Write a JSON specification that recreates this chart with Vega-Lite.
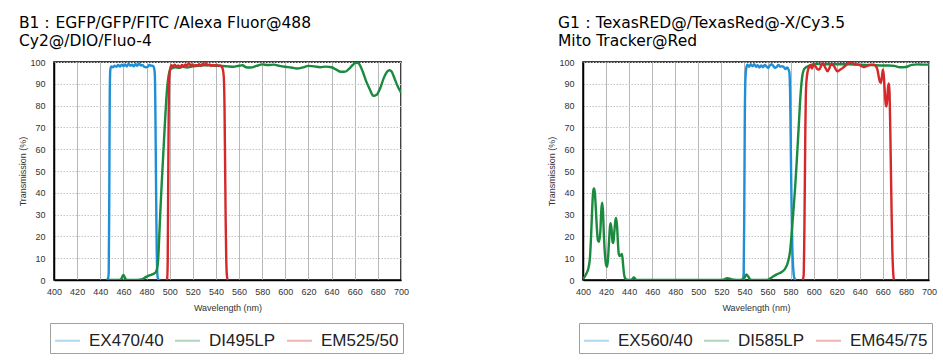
{
  "$schema": "https://vega.github.io/schema/vega-lite/v6.json",
  "background": "white",
  "padding": {"left": 18, "top": 14, "right": 5, "bottom": 5},
  "datasets": {
    "b1": [
      {"s": "EX470/40", "nm": 445, "t": 0}, {"s": "EX470/40", "nm": 446.5, "t": 0.2}, {"s": "EX470/40", "nm": 447.3, "t": 3}, {"s": "EX470/40", "nm": 447.8, "t": 40}, {"s": "EX470/40", "nm": 448.2, "t": 85}, {"s": "EX470/40", "nm": 448.7, "t": 96.5}, {"s": "EX470/40", "nm": 449.5, "t": 98}, {"s": "EX470/40", "nm": 451, "t": 97.6}, {"s": "EX470/40", "nm": 452.5, "t": 98.3}, {"s": "EX470/40", "nm": 454, "t": 97.8}, {"s": "EX470/40", "nm": 455.5, "t": 98.6}, {"s": "EX470/40", "nm": 457, "t": 97.9}, {"s": "EX470/40", "nm": 458.5, "t": 98.8}, {"s": "EX470/40", "nm": 460, "t": 98.1}, {"s": "EX470/40", "nm": 461.5, "t": 98.9}, {"s": "EX470/40", "nm": 463, "t": 97.9}, {"s": "EX470/40", "nm": 464.5, "t": 99.2}, {"s": "EX470/40", "nm": 466, "t": 98.3}, {"s": "EX470/40", "nm": 467.5, "t": 98.8}, {"s": "EX470/40", "nm": 469, "t": 98.0}, {"s": "EX470/40", "nm": 470.5, "t": 99.1}, {"s": "EX470/40", "nm": 472, "t": 98.2}, {"s": "EX470/40", "nm": 473.5, "t": 99.4}, {"s": "EX470/40", "nm": 475, "t": 98.4}, {"s": "EX470/40", "nm": 476.5, "t": 98.7}, {"s": "EX470/40", "nm": 478, "t": 97.8}, {"s": "EX470/40", "nm": 479.5, "t": 97.6}, {"s": "EX470/40", "nm": 481, "t": 97.8}, {"s": "EX470/40", "nm": 482.5, "t": 98.6}, {"s": "EX470/40", "nm": 484, "t": 98.3}, {"s": "EX470/40", "nm": 485.5, "t": 98.2}, {"s": "EX470/40", "nm": 486.5, "t": 97.3}, {"s": "EX470/40", "nm": 487.2, "t": 94}, {"s": "EX470/40", "nm": 487.7, "t": 75}, {"s": "EX470/40", "nm": 488.2, "t": 45}, {"s": "EX470/40", "nm": 488.7, "t": 18}, {"s": "EX470/40", "nm": 489.2, "t": 5}, {"s": "EX470/40", "nm": 489.7, "t": 1}, {"s": "EX470/40", "nm": 490.5, "t": 0}, {"s": "EX470/40", "nm": 492, "t": 0},
      {"s": "DI495LP", "nm": 445, "t": 0}, {"s": "DI495LP", "nm": 450, "t": 0}, {"s": "DI495LP", "nm": 455, "t": 0}, {"s": "DI495LP", "nm": 458, "t": 0.3}, {"s": "DI495LP", "nm": 459, "t": 1.5}, {"s": "DI495LP", "nm": 460, "t": 2.3}, {"s": "DI495LP", "nm": 461, "t": 1.5}, {"s": "DI495LP", "nm": 462, "t": 0.3}, {"s": "DI495LP", "nm": 465, "t": 0}, {"s": "DI495LP", "nm": 470, "t": 0}, {"s": "DI495LP", "nm": 474, "t": 0.1}, {"s": "DI495LP", "nm": 477, "t": 0.5}, {"s": "DI495LP", "nm": 479, "t": 1.2}, {"s": "DI495LP", "nm": 481, "t": 1.8}, {"s": "DI495LP", "nm": 484, "t": 2.4}, {"s": "DI495LP", "nm": 486, "t": 2.8}, {"s": "DI495LP", "nm": 488, "t": 3.6}, {"s": "DI495LP", "nm": 489, "t": 5}, {"s": "DI495LP", "nm": 490, "t": 9}, {"s": "DI495LP", "nm": 491, "t": 20}, {"s": "DI495LP", "nm": 492, "t": 32}, {"s": "DI495LP", "nm": 493, "t": 43}, {"s": "DI495LP", "nm": 494, "t": 53}, {"s": "DI495LP", "nm": 495, "t": 63}, {"s": "DI495LP", "nm": 496, "t": 73}, {"s": "DI495LP", "nm": 497, "t": 82}, {"s": "DI495LP", "nm": 498, "t": 89}, {"s": "DI495LP", "nm": 499, "t": 93.5}, {"s": "DI495LP", "nm": 500, "t": 95.8}, {"s": "DI495LP", "nm": 501, "t": 96.8}, {"s": "DI495LP", "nm": 503, "t": 97.3}, {"s": "DI495LP", "nm": 505, "t": 97.6}, {"s": "DI495LP", "nm": 508, "t": 97.3}, {"s": "DI495LP", "nm": 511, "t": 97.8}, {"s": "DI495LP", "nm": 515, "t": 97.5}, {"s": "DI495LP", "nm": 520, "t": 98}, {"s": "DI495LP", "nm": 525, "t": 98.3}, {"s": "DI495LP", "nm": 530, "t": 98.5}, {"s": "DI495LP", "nm": 535, "t": 98.5}, {"s": "DI495LP", "nm": 540, "t": 98.3}, {"s": "DI495LP", "nm": 545, "t": 98.2}, {"s": "DI495LP", "nm": 550, "t": 98}, {"s": "DI495LP", "nm": 555, "t": 97.8}, {"s": "DI495LP", "nm": 560, "t": 98.3}, {"s": "DI495LP", "nm": 563, "t": 98.5}, {"s": "DI495LP", "nm": 566, "t": 97.6}, {"s": "DI495LP", "nm": 570, "t": 97.5}, {"s": "DI495LP", "nm": 575, "t": 98.2}, {"s": "DI495LP", "nm": 580, "t": 98.9}, {"s": "DI495LP", "nm": 585, "t": 98.6}, {"s": "DI495LP", "nm": 590, "t": 98.8}, {"s": "DI495LP", "nm": 595, "t": 98.2}, {"s": "DI495LP", "nm": 600, "t": 97.8}, {"s": "DI495LP", "nm": 605, "t": 97.5}, {"s": "DI495LP", "nm": 610, "t": 97}, {"s": "DI495LP", "nm": 615, "t": 97.5}, {"s": "DI495LP", "nm": 620, "t": 98.2}, {"s": "DI495LP", "nm": 625, "t": 98}, {"s": "DI495LP", "nm": 630, "t": 97.6}, {"s": "DI495LP", "nm": 635, "t": 97.9}, {"s": "DI495LP", "nm": 640, "t": 97.6}, {"s": "DI495LP", "nm": 644, "t": 96.5}, {"s": "DI495LP", "nm": 648, "t": 95.5}, {"s": "DI495LP", "nm": 652, "t": 95.6}, {"s": "DI495LP", "nm": 655, "t": 96.8}, {"s": "DI495LP", "nm": 658, "t": 98.5}, {"s": "DI495LP", "nm": 661, "t": 99.6}, {"s": "DI495LP", "nm": 663, "t": 99.5}, {"s": "DI495LP", "nm": 665, "t": 98}, {"s": "DI495LP", "nm": 667, "t": 95.5}, {"s": "DI495LP", "nm": 670, "t": 91}, {"s": "DI495LP", "nm": 673, "t": 87.5}, {"s": "DI495LP", "nm": 676, "t": 84.5}, {"s": "DI495LP", "nm": 679, "t": 85}, {"s": "DI495LP", "nm": 682, "t": 88}, {"s": "DI495LP", "nm": 685, "t": 92.5}, {"s": "DI495LP", "nm": 688, "t": 95.5}, {"s": "DI495LP", "nm": 690, "t": 96.2}, {"s": "DI495LP", "nm": 692, "t": 95.5}, {"s": "DI495LP", "nm": 694, "t": 93}, {"s": "DI495LP", "nm": 697, "t": 89}, {"s": "DI495LP", "nm": 700, "t": 86},
      {"s": "EM525/50", "nm": 497, "t": 0}, {"s": "EM525/50", "nm": 497.8, "t": 0.5}, {"s": "EM525/50", "nm": 498.3, "t": 8}, {"s": "EM525/50", "nm": 498.8, "t": 50}, {"s": "EM525/50", "nm": 499.3, "t": 85}, {"s": "EM525/50", "nm": 499.8, "t": 94}, {"s": "EM525/50", "nm": 500.5, "t": 97}, {"s": "EM525/50", "nm": 501.5, "t": 98.5}, {"s": "EM525/50", "nm": 503, "t": 98}, {"s": "EM525/50", "nm": 504.5, "t": 98.8}, {"s": "EM525/50", "nm": 506, "t": 97.8}, {"s": "EM525/50", "nm": 507.5, "t": 98.4}, {"s": "EM525/50", "nm": 509, "t": 97.5}, {"s": "EM525/50", "nm": 510.5, "t": 98.7}, {"s": "EM525/50", "nm": 512, "t": 98}, {"s": "EM525/50", "nm": 513.5, "t": 98.9}, {"s": "EM525/50", "nm": 515, "t": 98.2}, {"s": "EM525/50", "nm": 516.5, "t": 99.5}, {"s": "EM525/50", "nm": 518, "t": 98.4}, {"s": "EM525/50", "nm": 519.5, "t": 98.9}, {"s": "EM525/50", "nm": 521, "t": 98.1}, {"s": "EM525/50", "nm": 522.5, "t": 98.7}, {"s": "EM525/50", "nm": 524, "t": 98.3}, {"s": "EM525/50", "nm": 525.5, "t": 99}, {"s": "EM525/50", "nm": 527, "t": 98.2}, {"s": "EM525/50", "nm": 528.5, "t": 99.2}, {"s": "EM525/50", "nm": 530, "t": 98.6}, {"s": "EM525/50", "nm": 531.5, "t": 99.4}, {"s": "EM525/50", "nm": 533, "t": 98.5}, {"s": "EM525/50", "nm": 534.5, "t": 98.9}, {"s": "EM525/50", "nm": 536, "t": 98.2}, {"s": "EM525/50", "nm": 537.5, "t": 98.7}, {"s": "EM525/50", "nm": 539, "t": 98.3}, {"s": "EM525/50", "nm": 540.5, "t": 98.8}, {"s": "EM525/50", "nm": 542, "t": 98.2}, {"s": "EM525/50", "nm": 543.5, "t": 98.4}, {"s": "EM525/50", "nm": 545, "t": 97.8}, {"s": "EM525/50", "nm": 546, "t": 96.5}, {"s": "EM525/50", "nm": 546.8, "t": 93}, {"s": "EM525/50", "nm": 547.4, "t": 80}, {"s": "EM525/50", "nm": 547.9, "t": 55}, {"s": "EM525/50", "nm": 548.4, "t": 28}, {"s": "EM525/50", "nm": 548.9, "t": 10}, {"s": "EM525/50", "nm": 549.5, "t": 2}, {"s": "EM525/50", "nm": 550.2, "t": 0}, {"s": "EM525/50", "nm": 551, "t": 0}
    ],
    "g1": [
      {"s": "EX560/40", "nm": 537, "t": 0}, {"s": "EX560/40", "nm": 538.5, "t": 0.3}, {"s": "EX560/40", "nm": 539.3, "t": 3}, {"s": "EX560/40", "nm": 539.8, "t": 30}, {"s": "EX560/40", "nm": 540.3, "t": 75}, {"s": "EX560/40", "nm": 540.8, "t": 92}, {"s": "EX560/40", "nm": 541.5, "t": 97}, {"s": "EX560/40", "nm": 542.5, "t": 98.8}, {"s": "EX560/40", "nm": 544, "t": 97.8}, {"s": "EX560/40", "nm": 545.5, "t": 99}, {"s": "EX560/40", "nm": 547, "t": 98}, {"s": "EX560/40", "nm": 548.5, "t": 99}, {"s": "EX560/40", "nm": 550, "t": 97.8}, {"s": "EX560/40", "nm": 551.5, "t": 98.5}, {"s": "EX560/40", "nm": 553, "t": 97.5}, {"s": "EX560/40", "nm": 554.5, "t": 98.4}, {"s": "EX560/40", "nm": 556, "t": 97.6}, {"s": "EX560/40", "nm": 557.5, "t": 98.6}, {"s": "EX560/40", "nm": 559, "t": 98}, {"s": "EX560/40", "nm": 560.5, "t": 97.3}, {"s": "EX560/40", "nm": 562, "t": 98.4}, {"s": "EX560/40", "nm": 563.5, "t": 99}, {"s": "EX560/40", "nm": 565, "t": 98.2}, {"s": "EX560/40", "nm": 566.5, "t": 97.3}, {"s": "EX560/40", "nm": 568, "t": 97.8}, {"s": "EX560/40", "nm": 569.5, "t": 98.6}, {"s": "EX560/40", "nm": 571, "t": 97.8}, {"s": "EX560/40", "nm": 572.5, "t": 98.1}, {"s": "EX560/40", "nm": 574, "t": 97.7}, {"s": "EX560/40", "nm": 575.5, "t": 96.8}, {"s": "EX560/40", "nm": 577, "t": 97.5}, {"s": "EX560/40", "nm": 578.3, "t": 96.4}, {"s": "EX560/40", "nm": 579, "t": 95}, {"s": "EX560/40", "nm": 579.6, "t": 85}, {"s": "EX560/40", "nm": 580.2, "t": 60}, {"s": "EX560/40", "nm": 580.8, "t": 35}, {"s": "EX560/40", "nm": 581.5, "t": 15}, {"s": "EX560/40", "nm": 582.3, "t": 5}, {"s": "EX560/40", "nm": 583.2, "t": 1}, {"s": "EX560/40", "nm": 584.5, "t": 0},
      {"s": "DI585LP", "nm": 400, "t": 0.5}, {"s": "DI585LP", "nm": 401.5, "t": 1.5}, {"s": "DI585LP", "nm": 403, "t": 3}, {"s": "DI585LP", "nm": 404.5, "t": 5}, {"s": "DI585LP", "nm": 406, "t": 10}, {"s": "DI585LP", "nm": 407, "t": 20}, {"s": "DI585LP", "nm": 408, "t": 33}, {"s": "DI585LP", "nm": 408.8, "t": 40.5}, {"s": "DI585LP", "nm": 409.5, "t": 42}, {"s": "DI585LP", "nm": 410.3, "t": 40}, {"s": "DI585LP", "nm": 411, "t": 34}, {"s": "DI585LP", "nm": 412, "t": 24}, {"s": "DI585LP", "nm": 413, "t": 18}, {"s": "DI585LP", "nm": 414, "t": 17.5}, {"s": "DI585LP", "nm": 415, "t": 22}, {"s": "DI585LP", "nm": 416, "t": 33}, {"s": "DI585LP", "nm": 416.6, "t": 35.5}, {"s": "DI585LP", "nm": 417.3, "t": 32}, {"s": "DI585LP", "nm": 418, "t": 22}, {"s": "DI585LP", "nm": 419, "t": 12}, {"s": "DI585LP", "nm": 420, "t": 7}, {"s": "DI585LP", "nm": 420.8, "t": 6}, {"s": "DI585LP", "nm": 421.6, "t": 9}, {"s": "DI585LP", "nm": 422.5, "t": 17}, {"s": "DI585LP", "nm": 423.4, "t": 24.5}, {"s": "DI585LP", "nm": 424, "t": 26}, {"s": "DI585LP", "nm": 424.8, "t": 23}, {"s": "DI585LP", "nm": 425.6, "t": 17.5}, {"s": "DI585LP", "nm": 426.3, "t": 17}, {"s": "DI585LP", "nm": 427, "t": 21}, {"s": "DI585LP", "nm": 428, "t": 27}, {"s": "DI585LP", "nm": 428.7, "t": 28.5}, {"s": "DI585LP", "nm": 429.5, "t": 25}, {"s": "DI585LP", "nm": 430.3, "t": 17}, {"s": "DI585LP", "nm": 431, "t": 12}, {"s": "DI585LP", "nm": 432, "t": 11}, {"s": "DI585LP", "nm": 433, "t": 11.5}, {"s": "DI585LP", "nm": 433.8, "t": 12}, {"s": "DI585LP", "nm": 434.6, "t": 8}, {"s": "DI585LP", "nm": 435.5, "t": 3}, {"s": "DI585LP", "nm": 436.5, "t": 0.8}, {"s": "DI585LP", "nm": 438, "t": 0.2}, {"s": "DI585LP", "nm": 441, "t": 0}, {"s": "DI585LP", "nm": 443, "t": 0.5}, {"s": "DI585LP", "nm": 444, "t": 1.2}, {"s": "DI585LP", "nm": 445, "t": 0.8}, {"s": "DI585LP", "nm": 446, "t": 0}, {"s": "DI585LP", "nm": 460, "t": 0}, {"s": "DI585LP", "nm": 480, "t": 0}, {"s": "DI585LP", "nm": 500, "t": 0}, {"s": "DI585LP", "nm": 518, "t": 0}, {"s": "DI585LP", "nm": 522, "t": 0.2}, {"s": "DI585LP", "nm": 525, "t": 0.8}, {"s": "DI585LP", "nm": 528, "t": 0.5}, {"s": "DI585LP", "nm": 531, "t": 0.1}, {"s": "DI585LP", "nm": 535, "t": 0}, {"s": "DI585LP", "nm": 538, "t": 0.2}, {"s": "DI585LP", "nm": 540, "t": 1}, {"s": "DI585LP", "nm": 541.5, "t": 2.5}, {"s": "DI585LP", "nm": 543, "t": 1.8}, {"s": "DI585LP", "nm": 544.5, "t": 0.5}, {"s": "DI585LP", "nm": 546, "t": 0}, {"s": "DI585LP", "nm": 559, "t": 0}, {"s": "DI585LP", "nm": 561, "t": 0.3}, {"s": "DI585LP", "nm": 564, "t": 1.3}, {"s": "DI585LP", "nm": 568, "t": 2.6}, {"s": "DI585LP", "nm": 572, "t": 3.6}, {"s": "DI585LP", "nm": 575, "t": 5}, {"s": "DI585LP", "nm": 577, "t": 7}, {"s": "DI585LP", "nm": 578.5, "t": 10}, {"s": "DI585LP", "nm": 579.5, "t": 13}, {"s": "DI585LP", "nm": 581, "t": 22}, {"s": "DI585LP", "nm": 582.5, "t": 32}, {"s": "DI585LP", "nm": 584, "t": 43}, {"s": "DI585LP", "nm": 585.5, "t": 56}, {"s": "DI585LP", "nm": 587, "t": 70}, {"s": "DI585LP", "nm": 588.5, "t": 84}, {"s": "DI585LP", "nm": 590, "t": 93}, {"s": "DI585LP", "nm": 591.5, "t": 96.5}, {"s": "DI585LP", "nm": 593, "t": 97.4}, {"s": "DI585LP", "nm": 595, "t": 98}, {"s": "DI585LP", "nm": 597, "t": 98.5}, {"s": "DI585LP", "nm": 600, "t": 99}, {"s": "DI585LP", "nm": 603, "t": 99.2}, {"s": "DI585LP", "nm": 607, "t": 98.9}, {"s": "DI585LP", "nm": 612, "t": 99}, {"s": "DI585LP", "nm": 620, "t": 99}, {"s": "DI585LP", "nm": 630, "t": 99}, {"s": "DI585LP", "nm": 640, "t": 98.8}, {"s": "DI585LP", "nm": 650, "t": 98.6}, {"s": "DI585LP", "nm": 660, "t": 98.4}, {"s": "DI585LP", "nm": 665, "t": 98.4}, {"s": "DI585LP", "nm": 670, "t": 98.2}, {"s": "DI585LP", "nm": 675, "t": 97.6}, {"s": "DI585LP", "nm": 680, "t": 97.7}, {"s": "DI585LP", "nm": 685, "t": 98.7}, {"s": "DI585LP", "nm": 690, "t": 98.9}, {"s": "DI585LP", "nm": 695, "t": 98.8}, {"s": "DI585LP", "nm": 700, "t": 98.8},
      {"s": "EM645/75", "nm": 590.5, "t": 0}, {"s": "EM645/75", "nm": 591.3, "t": 2}, {"s": "EM645/75", "nm": 592, "t": 25}, {"s": "EM645/75", "nm": 592.7, "t": 65}, {"s": "EM645/75", "nm": 593.4, "t": 88}, {"s": "EM645/75", "nm": 594.3, "t": 94}, {"s": "EM645/75", "nm": 595.5, "t": 97}, {"s": "EM645/75", "nm": 597, "t": 98.5}, {"s": "EM645/75", "nm": 598.5, "t": 97}, {"s": "EM645/75", "nm": 600, "t": 98.8}, {"s": "EM645/75", "nm": 601.5, "t": 98.2}, {"s": "EM645/75", "nm": 603, "t": 96.8}, {"s": "EM645/75", "nm": 604.8, "t": 96.5}, {"s": "EM645/75", "nm": 606.3, "t": 98}, {"s": "EM645/75", "nm": 607.7, "t": 99.6}, {"s": "EM645/75", "nm": 609, "t": 98.6}, {"s": "EM645/75", "nm": 610.5, "t": 97}, {"s": "EM645/75", "nm": 612, "t": 95.7}, {"s": "EM645/75", "nm": 613.5, "t": 97}, {"s": "EM645/75", "nm": 614.9, "t": 98.8}, {"s": "EM645/75", "nm": 616.3, "t": 98.7}, {"s": "EM645/75", "nm": 617.8, "t": 98}, {"s": "EM645/75", "nm": 619.3, "t": 96.5}, {"s": "EM645/75", "nm": 620.7, "t": 95.7}, {"s": "EM645/75", "nm": 622.5, "t": 96.3}, {"s": "EM645/75", "nm": 625, "t": 97.2}, {"s": "EM645/75", "nm": 627.5, "t": 98.3}, {"s": "EM645/75", "nm": 630, "t": 99.4}, {"s": "EM645/75", "nm": 632, "t": 99.8}, {"s": "EM645/75", "nm": 634, "t": 99.5}, {"s": "EM645/75", "nm": 636, "t": 98.8}, {"s": "EM645/75", "nm": 638, "t": 98.9}, {"s": "EM645/75", "nm": 640, "t": 98.5}, {"s": "EM645/75", "nm": 642, "t": 98}, {"s": "EM645/75", "nm": 643.7, "t": 97.7}, {"s": "EM645/75", "nm": 646, "t": 98.1}, {"s": "EM645/75", "nm": 648.5, "t": 98.6}, {"s": "EM645/75", "nm": 650.5, "t": 98.8}, {"s": "EM645/75", "nm": 652.4, "t": 98.8}, {"s": "EM645/75", "nm": 654, "t": 98}, {"s": "EM645/75", "nm": 655.3, "t": 96.5}, {"s": "EM645/75", "nm": 656.5, "t": 93}, {"s": "EM645/75", "nm": 657.5, "t": 90.8}, {"s": "EM645/75", "nm": 658.3, "t": 90.5}, {"s": "EM645/75", "nm": 659.1, "t": 93}, {"s": "EM645/75", "nm": 660, "t": 96.5}, {"s": "EM645/75", "nm": 660.8, "t": 94}, {"s": "EM645/75", "nm": 661.6, "t": 87}, {"s": "EM645/75", "nm": 662.4, "t": 81}, {"s": "EM645/75", "nm": 663, "t": 79.6}, {"s": "EM645/75", "nm": 663.7, "t": 82}, {"s": "EM645/75", "nm": 664.4, "t": 88}, {"s": "EM645/75", "nm": 665.2, "t": 90.2}, {"s": "EM645/75", "nm": 665.8, "t": 86}, {"s": "EM645/75", "nm": 666.4, "t": 70}, {"s": "EM645/75", "nm": 667, "t": 50}, {"s": "EM645/75", "nm": 667.6, "t": 30}, {"s": "EM645/75", "nm": 668.2, "t": 14}, {"s": "EM645/75", "nm": 668.8, "t": 5}, {"s": "EM645/75", "nm": 669.5, "t": 0.5}, {"s": "EM645/75", "nm": 670.2, "t": 0}
    ]
  },
  "spacing": 137,
  "resolve": {"scale": {"color": "independent"}, "legend": {"color": "independent"}},
  "hconcat": [
    {
      "width": 347,
      "height": 218,
      "title": {"text": ["B1：EGFP/GFP/FITC /Alexa Fluor@488", "Cy2@/DIO/Fluo-4"]},
      "data": {"name": "b1"},
      "mark": {"type": "line", "strokeWidth": 2.4, "interpolate": "monotone", "clip": true},
      "encoding": {
        "x": {"field": "nm", "type": "quantitative", "scale": {"domain": [400, 700], "nice": false}, "axis": {"values": [400, 420, 440, 460, 480, 500, 520, 540, 560, 580, 600, 620, 640, 660, 680, 700], "title": "Wavelength (nm)"}},
        "y": {"field": "t", "type": "quantitative", "scale": {"domain": [0, 100], "nice": false}, "axis": {"values": [0, 10, 20, 30, 40, 50, 60, 70, 80, 90, 100], "title": "Transmission (%)"}},
        "color": {"field": "s", "type": "nominal", "scale": {"domain": ["EX470/40", "DI495LP", "EM525/50"], "range": ["#1f8fd6", "#1a8a3e", "#d5282b"]}, "legend": {"title": null, "orient": "none", "legendX": -4, "legendY": 261}}
      }
    },
    {
      "width": 346,
      "height": 218,
      "title": {"text": ["G1：TexasRED@/TexasRed@-X/Cy3.5", "Mito Tracker@Red"], "dx": 10},
      "data": {"name": "g1"},
      "mark": {"type": "line", "strokeWidth": 2.4, "interpolate": "monotone", "clip": true},
      "encoding": {
        "x": {"field": "nm", "type": "quantitative", "scale": {"domain": [400, 700], "nice": false}, "axis": {"values": [400, 420, 440, 460, 480, 500, 520, 540, 560, 580, 600, 620, 640, 660, 680, 700], "title": "Wavelength (nm)"}},
        "y": {"field": "t", "type": "quantitative", "scale": {"domain": [0, 100], "nice": false}, "axis": {"values": [0, 10, 20, 30, 40, 50, 60, 70, 80, 90, 100], "title": "Transmission (%)"}},
        "color": {"field": "s", "type": "nominal", "scale": {"domain": ["EX560/40", "DI585LP", "EM645/75"], "range": ["#1f8fd6", "#1a8a3e", "#d5282b"]}, "legend": {"title": null, "orient": "none", "legendX": -4, "legendY": 261}}
      }
    }
  ],
  "config": {
    "view": {"stroke": "#000000", "strokeWidth": 1.5},
    "title": {"font": "DejaVu Sans", "fontSize": 15.5, "fontWeight": "normal", "color": "#000000", "anchor": "start", "lineHeight": 18, "offset": 9},
    "axis": {"labelFont": "Liberation Sans", "labelFontSize": 9, "labelColor": "#333333", "labelFlush": false, "titleFont": "Liberation Sans", "titleFontSize": 9, "titleFontWeight": "normal", "titleColor": "#333333", "ticks": false, "domainColor": "#000000", "domainWidth": 1.5, "gridColor": "#b8b8b8", "gridWidth": 1, "gridOpacity": 1},
    "axisX": {"gridDash": [], "labelPadding": 7, "titlePadding": 7},
    "axisY": {"gridDash": [1.5, 1.5], "gridColor": "#c4c4c4", "labelPadding": 9, "titlePadding": 2},
    "legend": {"direction": "horizontal", "strokeColor": "#a0a0a0", "padding": 4, "symbolType": "stroke", "symbolSize": 625, "symbolStrokeWidth": 2, "symbolOpacity": 0.35, "labelFont": "Liberation Sans", "labelFontSize": 17, "labelColor": "#222222", "labelOffset": 8, "columnPadding": 7}
  }
}
